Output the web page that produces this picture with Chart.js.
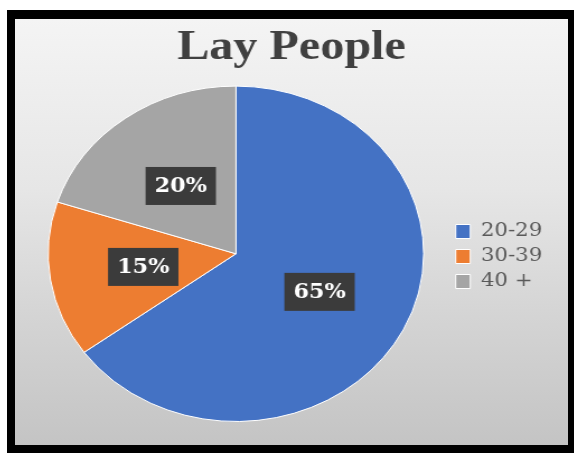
<!DOCTYPE html>
<html>
<head>
<meta charset="utf-8">
<script src="https://cdn.jsdelivr.net/npm/chart.js@4.4.1/dist/chart.umd.min.js"></script>
<style>
  html, body { margin: 0; padding: 0; background: #ffffff; width: 574px; height: 453px; overflow: hidden; }
  #frame { position: absolute; left: 7px; top: 10px; width: 567px; height: 443px; background: #000000; }
  #panel { position: absolute; left: 15px; top: 19px; width: 553px; height: 426px; overflow: hidden;
           background: linear-gradient(180deg, #f4f4f4 0%, #e6e6e6 40%, #d4d4d4 70%, #c4c4c4 100%); }
  #stretch { width: 494px; height: 426px; transform: scaleX(1.1194); transform-origin: 0 0; }
  canvas { display: block; }
</style>
</head>
<body>
<div id="frame"></div>
<div id="panel">
  <div id="stretch">
    <canvas id="c" width="494" height="426"></canvas>
  </div>
</div>
<script>
// Age groups and their share of lay people (%)
const categories = ['20-29', '30-39', '40 +'];
const shares = [65, 15, 20];
const sliceColors = ['#4472C4', '#ED7D31', '#A5A5A5'];
const chartTitle = 'Lay People';

// Dark tag with the percentage, placed at each slice's centre point
const sliceTags = {
  id: 'sliceTags',
  afterDatasetsDraw(chart) {
    const ctx = chart.ctx;
    const meta = chart.getDatasetMeta(0);
    ctx.save();
    ctx.font = 'bold 20px "DejaVu Serif"';
    ctx.textAlign = 'center';
    ctx.textBaseline = 'middle';
    meta.data.forEach((arc, i) => {
      const p = arc.getCenterPoint();
      const text = chart.data.datasets[0].data[i] + '%';
      const w = ctx.measureText(text).width + 16;
      const h = 38;
      ctx.fillStyle = '#3b3b3b';
      ctx.fillRect(p.x - w / 2, p.y - h / 2, w, h);
      ctx.fillStyle = '#ffffff';
      ctx.fillText(text, p.x, p.y + 1);
    });
    ctx.restore();
  }
};

// Lower the legend level with the pie's middle; centre the title on the whole panel
const boxNudge = {
  id: 'boxNudge',
  afterLayout(chart) {
    const lg = chart.legend;
    if (lg) { lg.top += 36; lg.bottom += 36; }
    const tb = chart.titleBlock;
    if (tb) {
      const dx = chart.width / 2 - (tb.left + tb.right) / 2;
      tb.left += dx; tb.right += dx;
    }
  }
};

new Chart(document.getElementById('c'), {
  type: 'pie',
  data: {
    labels: categories,
    datasets: [{
      data: shares,
      backgroundColor: sliceColors,
      borderColor: '#ffffff',
      borderWidth: 1,
      hoverOffset: 0
    }]
  },
  options: {
    responsive: false,
    devicePixelRatio: 1,
    animation: false,
    layout: { padding: { left: 7, right: 13, top: 0, bottom: 23 } },
    plugins: {
      title: {
        display: true,
        text: chartTitle,
        color: '#404040',
        font: { family: '"Liberation Serif"', size: 43, weight: 'bold' },
        padding: { top: 3, bottom: 12 }
      },
      legend: {
        position: 'right',
        labels: {
          boxWidth: 13,
          boxHeight: 14,
          padding: 6,
          color: '#595959',
          font: { family: '"DejaVu Serif"', size: 19 }
        }
      },
      tooltip: { enabled: false }
    }
  },
  plugins: [sliceTags, boxNudge]
});
</script>
</body>
</html>
